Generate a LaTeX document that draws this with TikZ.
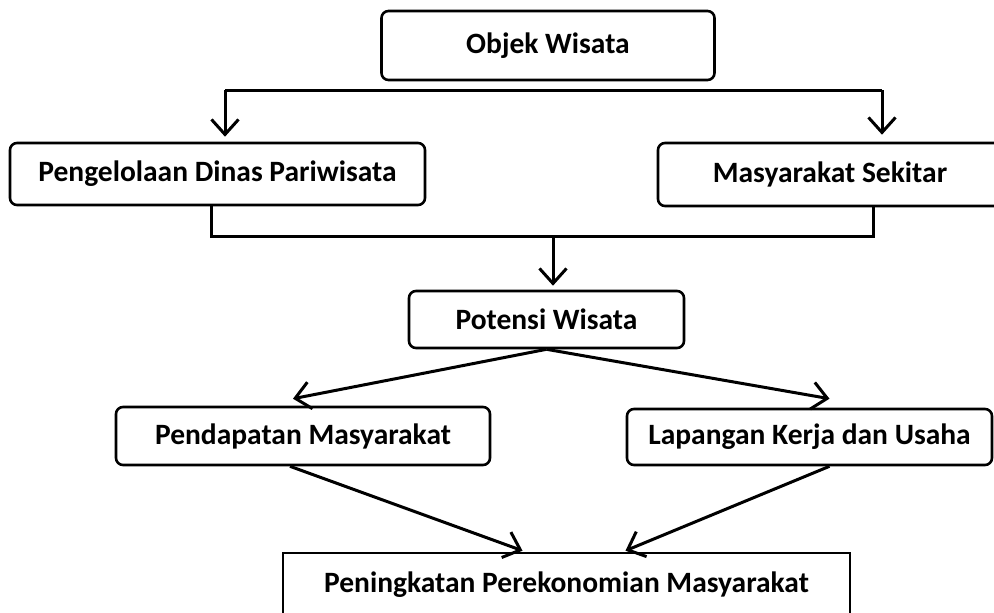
\documentclass[tikz,border=0pt]{standalone}
\usepackage{fontspec}
\setmainfont{Carlito}
\usepackage{tikz}
\usetikzlibrary{arrows.meta}

\tikzset{
  kotak/.style={draw, line width=2.6pt, rounded corners=7pt, inner sep=0pt,
    font=\bfseries\fontsize{29.5}{33}\selectfont},
  panah/.style={line width=3pt, -{Straight Barb[length=15pt,width=27pt,line width=3pt]}},
  garis/.style={line width=3pt}
}

\begin{document}
\begin{tikzpicture}[x=1pt, y=-1pt]
  \useasboundingbox (0, 0) rectangle (994, 613);
  \clip (0, 0) rectangle (994, 613);

  \node[kotak, minimum width=333, minimum height=69] (objek) at (548, 45.5) {Objek Wisata};
  \node[kotak, minimum width=415, minimum height=62] (dinas) at (217.5, 174) {Pengelolaan Dinas Pariwisata};
  \node[kotak, minimum width=344, minimum height=63] (masy) at (830, 174.5) {Masyarakat Sekitar};
  \node[kotak, minimum width=275, minimum height=57] (potensi) at (546.5, 319.5) {Potensi Wisata};
  \node[kotak, minimum width=374, minimum height=58] (pendapatan) at (303, 436) {Pendapatan Masyarakat};
  \node[kotak, minimum width=365, minimum height=56] (lapangan) at (809.5, 437) {Lapangan Kerja dan Usaha};
  \node[kotak, rounded corners=0pt, minimum width=567, minimum height=64] (naik) at (566.5, 585) {Peningkatan Perekonomian Masyarakat};

  \coordinate (kiri) at (225, 90);
  \coordinate (kanan) at (882, 90);
  \draw[garis] (kiri) -- (kanan);
  \draw[panah, shorten >=5pt] (kiri) -- (kiri |- dinas.north);
  \draw[panah, shorten >=7pt] (kanan) -- (kanan |- masy.north);

  \coordinate (gabung) at (553, 236);
  \draw[garis] ([xshift=-6]dinas.south) |- (gabung) -| ([xshift=43]masy.south);
  \draw[panah, shorten >=4pt] (gabung) -- (gabung |- potensi.north);

  \draw[panah] (potensi.south) -- ([xshift=-10, yshift=7]pendapatan.north);
  \draw[panah] (potensi.south) -- ([xshift=20, yshift=9]lapangan.north);

  \draw[panah] ([xshift=-13]pendapatan.south) -- ([xshift=-44, yshift=1]naik.north);
  \draw[panah] ([xshift=20]lapangan.south) -- ([xshift=59, yshift=1]naik.north);
\end{tikzpicture}
\end{document}
